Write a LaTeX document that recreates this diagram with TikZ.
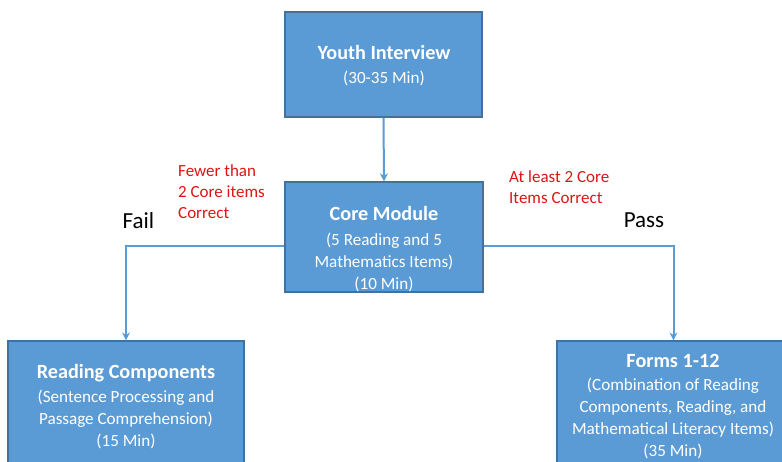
\documentclass[tikz,border=0pt]{standalone}
\usepackage{fontspec}
\setmainfont{Carlito}
\usetikzlibrary{arrows.meta}
\definecolor{boxfill}{HTML}{5B9BD5}
\definecolor{boxline}{HTML}{41719C}
\definecolor{lbred}{RGB}{222,20,20}
\tikzset{
  box/.style={draw=boxline, line width=1.2pt, fill=boxfill, inner sep=0pt},
  ttl/.style={text=white, font=\bfseries\fontsize{20.2}{23}\selectfont, inner sep=0pt},
  sub/.style={text=white, font=\fontsize{17.1}{22}\selectfont, align=center, inner sep=0pt},
  redlbl/.style={text=lbred, font=\fontsize{17}{21}\selectfont, align=left, inner sep=0pt},
  bigl/.style={text=black, font=\fontsize{23}{26}\selectfont, inner sep=0pt},
  conn/.style={draw=boxfill, line width=2pt, -{Stealth[length=8pt,width=8pt]}}
}
\begin{document}
\begin{tikzpicture}[x=1pt,y=-1pt]
\useasboundingbox (0,0) rectangle (782,461);
\clip (0,0) rectangle (782,461);
\node[box, minimum width=197pt, minimum height=105pt] (youth) at (383.5,64.5) {};
\node[box, minimum width=198pt, minimum height=110pt] (core) at (384,237) {};
\node[box, minimum width=236pt, minimum height=128pt] (reading) at (126,405) {};
\node[box, minimum width=233pt, minimum height=128pt] (forms) at (673.5,405) {};

\node[ttl] (youtht) at (384,52) {Youth Interview};
\node[sub] (youths) at (384,78) {(30-35 Min)};
\node[ttl] (coret) at (384,213) {Core Module};
\node[sub] (cores) at (384,262) {(5 Reading and 5\\Mathematics Items)\\(10 Min)};
\node[ttl] (readingt) at (126,373) {Reading Components};
\node[sub] (readings) at (126,419) {(Sentence Processing and\\Passage Comprehension)\\(15 Min)};
\node[ttl] (formst) at (673,361) {Forms 1-12};
\node[sub] (formss) at (673,418.5) {(Combination of Reading\\Components, Reading, and\\Mathematical Literacy Items)\\(35 Min)};

\node[redlbl, anchor=west] (fewer) at (178,192) {Fewer than\\2 Core items\\Correct};
\node[redlbl, anchor=west] (atleast) at (509,187.5) {At least 2 Core\\Items Correct};
\node[bigl] (fail) at (138.5,221) {Fail};
\node[bigl] (pass) at (644,220) {Pass};

\coordinate (fy) at (0,246);
\draw[conn] (youth.south) -- (core.north);
\draw[conn] (core.west |- fy) -| (reading.north);
\draw[conn] (core.east |- fy) -| (forms.north);
\end{tikzpicture}
\end{document}
